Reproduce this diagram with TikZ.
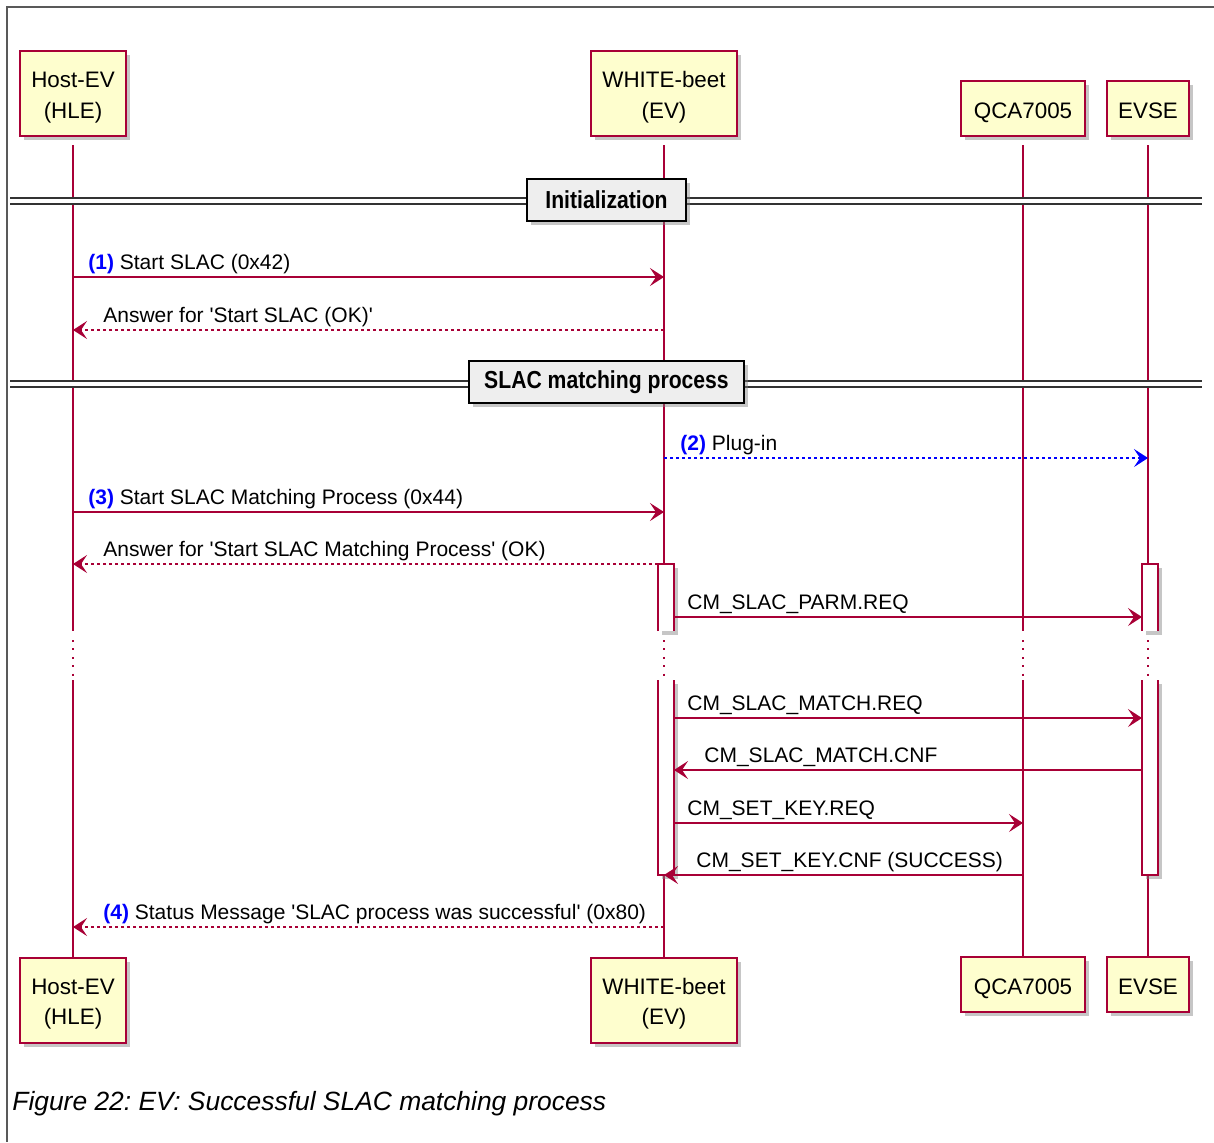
\documentclass[tikz,border=0pt]{standalone}
\usepackage{fontspec}
\setmainfont{Liberation Sans}
\newfontfamily\sepfont[FakeStretch=0.86]{Liberation Sans}
\usepackage{tikz}
\usetikzlibrary{arrows,arrows.meta,shadows,positioning}
\definecolor{umlred}{HTML}{A80036}
\definecolor{umlfill}{HTML}{FEFECE}
\definecolor{umlgray}{HTML}{EEEEEE}
\newcommand{\seqno}[1]{{\color{blue}\bfseries(#1)}}
\newcommand{\sq}{\textquotesingle}
\frenchspacing

\begin{document}
\begin{tikzpicture}[x=0.5pt,y=-0.5pt]
\tikzstyle{shade}=[drop shadow={shadow xshift=2.2pt,shadow yshift=-2.2pt,opacity=0.45}]
\tikzstyle{part}=[draw=umlred,fill=umlfill,line width=1pt,align=center,inner sep=0pt,shade,font=\fontsize{11.2}{15.3}\selectfont]
\tikzstyle{twoline}=[part,text height=27.3pt,text depth=2.35pt,minimum height=42.5pt]
\tikzstyle{oneline}=[part,text height=11pt,text depth=1.5pt,minimum height=27.5pt]
\tikzstyle{life}=[umlred,line width=0.6pt]
\tikzstyle{msg}=[umlred,line width=0.75pt,-{Stealth[length=7pt,width=9pt,inset=3pt]}]
\tikzstyle{ret}=[msg,dash pattern=on 1.5pt off 1.5pt]
\tikzstyle{lbl}=[anchor=base west,inner sep=0pt,font=\fontsize{10.5}{12}\selectfont]
\tikzstyle{act}=[draw=umlred,fill=white,line width=0.75pt,shade]
\tikzstyle{sepline}=[draw=black!80,double=white,double distance=2.4pt,line width=0.8pt]
\tikzstyle{sepbox}=[draw=black,fill=umlgray,line width=1.2pt,inner sep=0pt,shade,minimum height=21pt,font=\sepfont\bfseries\fontsize{12.3}{14}\selectfont]
\useasboundingbox (0,0) rectangle (1214,1142);
% frame
\draw[black!65,line width=0.8pt] (1214,7) -- (7,7) -- (7,1142);
% participants
\node[twoline,minimum width=53pt] (hev-top) at (73,93.5) {Host-EV\\(HLE)};
\node[twoline,minimum width=73pt] (wb-top) at (664,93.5) {WHITE-beet\\(EV)};
\node[oneline,minimum width=62pt] (qca-top) at (1023,108.5) {QCA7005};
\node[oneline,minimum width=41pt] (evse-top) at (1148,108.5) {EVSE};
\node[twoline,minimum width=53pt] (hev-bot) at (73,1000) {Host-EV\\(HLE)};
\node[twoline,minimum width=73pt] (wb-bot) at (664,1000) {WHITE-beet\\(EV)};
\node[oneline,minimum width=62pt] (qca-bot) at (1023,984.5) {QCA7005};
\node[oneline,minimum width=41pt] (evse-bot) at (1148,984.5) {EVSE};
% lifelines
\foreach \p in {hev,wb,qca,evse} {
  \draw[life,shorten <=4pt] (\p-top.south) -- (\p-top.south |- 0,631);
  \draw[life,dash pattern=on 1pt off 3.2pt] (\p-top.south |- 0,640) -- (\p-top.south |- 0,680);
  \draw[life] (\p-top.south |- 0,680) -- (\p-bot.north);
}
% Initialization
\draw[sepline] (10,201) -- (1202,201);
\node[sepbox,minimum width=79.5pt] (init) at (606.5,200) {Initialization};
\draw[msg] (hev-top.south |- 0,277) -- (wb-top.south |- 0,277);
\node[lbl] (l1) at (88,269) {\seqno{1} Start SLAC (0x42)};
\draw[ret] (wb-top.south |- 0,330) -- (hev-top.south |- 0,330);
\node[lbl] (r1) at (103,322) {Answer for \sq Start SLAC (OK)\sq};
% SLAC matching process
\draw[sepline] (10,384) -- (1202,384);
\node[sepbox,minimum width=137.5pt] (slac) at (606.5,382) {SLAC matching process};
\draw[msg,blue,dash pattern=on 1.5pt off 1.5pt] (wb-top.south |- 0,458) -- (evse-top.south |- 0,458);
\node[lbl] (l2) at (680,450) {\seqno{2} Plug-in};
\draw[msg] (hev-top.south |- 0,512) -- (wb-top.south |- 0,512);
\node[lbl] (l3) at (88,504) {\seqno{3} Start SLAC Matching Process (0x44)};
\draw[ret] (wb-top.south |- 0,564) -- (hev-top.south |- 0,564);
\node[lbl] (r3) at (103,556) {Answer for \sq Start SLAC Matching Process\sq{} (OK)};
% activations
\draw[act] (658,631) -- (658,564) -- (674,564) -- (674,631);
\draw[act] (1142,631) -- (1142,564) -- (1158,564) -- (1158,631);
\draw[act] (658,680) -- (658,875) -- (674,875) -- (674,680);
\draw[act] (1142,680) -- (1142,875) -- (1158,875) -- (1158,680);
\coordinate (wbR) at (674,0);
\coordinate (evL) at (1142,0);
\draw[msg] (wbR |- 0,617) -- (evL |- 0,617);
\node[lbl] (p1) at (687,609) {CM\_SLAC\_PARM.REQ};
\draw[msg] (wbR |- 0,718) -- (evL |- 0,718);
\node[lbl] (p2) at (687,710) {CM\_SLAC\_MATCH.REQ};
\draw[msg] (evL |- 0,770) -- (wbR |- 0,770);
\node[lbl] (p3) at (704,762) {CM\_SLAC\_MATCH.CNF};
\draw[msg] (wbR |- 0,823) -- (qca-top.south |- 0,823);
\node[lbl] (p4) at (687,815) {CM\_SET\_KEY.REQ};
\draw[msg] (qca-top.south |- 0,875) -- (wb-top.south |- 0,875);
\node[lbl] (p5) at (696,867) {CM\_SET\_KEY.CNF (SUCCESS)};
\draw[ret] (wb-top.south |- 0,927) -- (hev-top.south |- 0,927);
\node[lbl] (l4) at (103,919) {\seqno{4} Status Message \sq SLAC process was successful\sq{} (0x80)};
% caption
\node[anchor=base west,inner sep=0pt,font=\itshape\fontsize{13.2}{16}\selectfont] (cap) at (12,1110) {Figure 22: EV: Successful SLAC matching process};
\end{tikzpicture}
\end{document}
